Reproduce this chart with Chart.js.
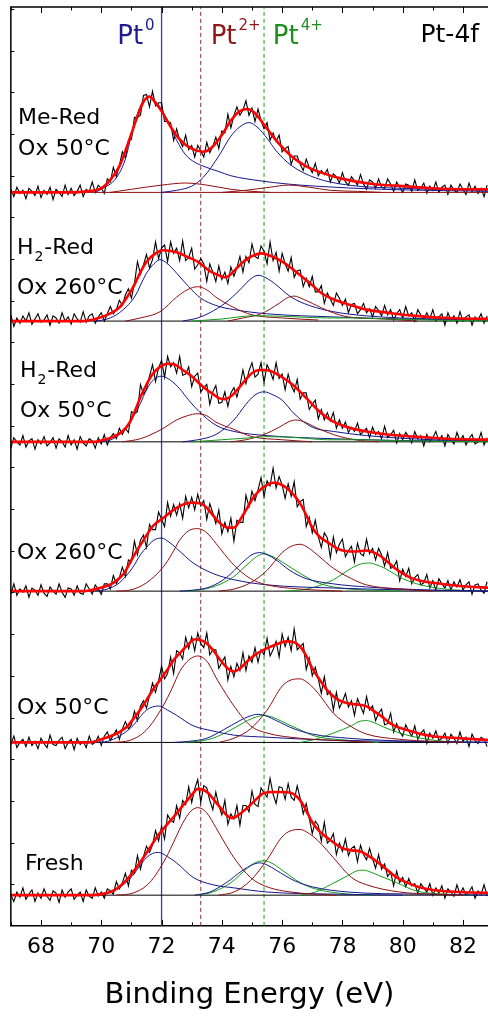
<!DOCTYPE html>
<html><head><meta charset="utf-8">
<script src="https://cdn.jsdelivr.net/npm/chart.js@4.4.1/dist/chart.umd.min.js"></script>
<style>html,body{margin:0;padding:0;background:#fff;overflow:hidden}canvas{display:block}</style>
</head><body>
<canvas id="c" width="488" height="1019"></canvas>
<script>
// ---------- DATA ----------
const xTicks = [68,70,72,74,76,78,80,82];
const refLines = [72.0, 73.3, 75.4]; // Pt0, Pt2+, Pt4+ binding energies (eV)
const refNames = ["Pt", "Pt", "Pt"];
const refSup = ["0", "2+", "4+"];
const panelTitle = "Pt-4f";
const sampleNames = [["Me-Red","Ox 50°C"],["H2-Red","Ox 260°C"],["H2-Red","Ox 50°C"],["Ox 260°C"],["Ox 50°C"],["Fresh"]];
const offsets = [704, 580.5, 464.6, 321.3, 176.1, 29.5];

const energy = [67,67.1,67.2,67.3,67.4,67.5,67.6,67.7,67.8,67.9,
68,68.1,68.2,68.3,68.4,68.5,68.6,68.7,68.8,68.9,
69,69.1,69.2,69.3,69.4,69.5,69.6,69.7,69.8,69.9,
70,70.1,70.2,70.3,70.4,70.5,70.6,70.7,70.8,70.9,
71,71.1,71.2,71.3,71.4,71.5,71.6,71.7,71.8,71.9,
72,72.1,72.2,72.3,72.4,72.5,72.6,72.7,72.8,72.9,
73,73.1,73.2,73.3,73.4,73.5,73.6,73.7,73.8,73.9,
74,74.1,74.2,74.3,74.4,74.5,74.6,74.7,74.8,74.9,
75,75.1,75.2,75.3,75.4,75.5,75.6,75.7,75.8,75.9,
76,76.1,76.2,76.3,76.4,76.5,76.6,76.7,76.8,76.9,
77,77.1,77.2,77.3,77.4,77.5,77.6,77.7,77.8,77.9,
78,78.1,78.2,78.3,78.4,78.5,78.6,78.7,78.8,78.9,
79,79.1,79.2,79.3,79.4,79.5,79.6,79.7,79.8,79.9,
80,80.1,80.2,80.3,80.4,80.5,80.6,80.7,80.8,80.9,
81,81.1,81.2,81.3,81.4,81.5,81.6,81.7,81.8,81.9,
82,82.1,82.2,82.3,82.4,82.5,82.6,82.7,82.8];

const rawMeRed = [3,-4,5,-1,2,-6,4,1,-3,6,
-5,2,-2,5,-7,3,0,-4,7,-2,
4,-3,1,7,-4,3,1,10,0,7,
4,-1,13,10,24,15,26,39,33,50,
51,72,72,74,93,94,82,97,83,86,
86,68,68,67,50,61,50,44,55,41,
45,34,45,40,34,48,38,44,53,42,
59,57,75,62,74,82,74,79,88,74,
81,68,80,69,61,67,50,57,49,55,
39,42,44,27,35,35,27,21,32,24,
19,28,16,21,17,22,10,18,15,9,
19,10,7,15,11,7,17,8,3,12,
10,4,13,5,4,13,8,1,10,5,
0,8,7,1,12,2,4,9,-1,6,
2,10,0,5,7,-2,7,2,0,8,
3,-2,9,1,6,-1,4,-4,7];

const rawH2Red260 = [6,-5,3,-2,5,0,8,-3,2,7,
-1,1,6,-4,5,3,-2,8,0,4,
-3,7,2,-1,9,-1,5,7,-2,4,
8,0,7,14,7,11,20,15,25,31,
22,36,57,45,54,64,51,59,76,60,
70,73,57,76,65,70,58,77,58,61,
70,50,54,60,55,38,55,47,38,53,
40,47,36,52,43,51,62,47,62,56,
74,62,60,72,67,55,76,58,66,48,
65,55,48,61,42,48,49,33,41,33,
43,28,28,34,17,27,21,15,27,22,
15,21,8,16,17,7,11,17,8,12,
4,14,10,5,15,6,11,1,7,11,
3,14,5,8,0,11,6,2,8,2,
11,0,4,7,-4,8,1,5,-2,9,
0,4,6,-4,4,1,7,-2,5];

const rawH2Red50 = [-6,4,0,-3,6,-5,1,3,-7,2,
-2,5,-4,-1,4,-6,3,0,-5,6,
-3,2,-7,5,-1,-4,3,1,-6,4,
-2,7,-3,4,8,3,13,7,13,9,
29,27,29,55,46,50,63,74,58,71,
78,62,82,72,76,66,82,64,65,72,
53,63,66,48,52,55,36,48,54,37,
38,48,34,47,52,43,54,69,56,68,
76,62,65,76,57,74,68,60,76,61,
65,50,65,54,48,60,41,47,47,31,
36,40,22,31,21,28,20,28,13,21,
13,19,9,14,10,18,7,10,13,4,
14,7,10,3,15,4,7,11,-1,8,
2,9,5,-1,10,3,6,-4,7,0,
4,10,1,6,-4,7,2,-2,9,1,
6,-3,3,7,-2,0,9,-3,4];

const rawOx260 = [-3,7,-4,2,-1,5,-6,3,1,-4,
6,-2,-5,4,0,-3,7,-1,-6,3,
2,-4,5,-2,-3,7,2,-3,6,2,
-3,7,7,2,15,7,13,23,14,30,
28,48,35,49,54,42,64,59,59,76,
69,62,85,72,83,73,84,70,91,80,
90,78,93,82,87,69,84,75,65,78,
55,66,57,70,48,68,66,66,92,81,
96,87,97,109,91,106,101,118,99,110,
102,89,103,91,105,81,86,88,62,71,
56,68,52,42,56,51,32,52,37,45,
50,33,39,43,28,46,36,34,50,36,
41,30,41,35,24,37,22,23,29,10,
21,14,22,7,13,16,6,8,16,3,
10,1,12,7,3,10,1,9,4,11,
1,6,9,-3,6,7,1,-2,9];

const rawOx50 = [-2,6,-5,0,3,-4,5,-3,1,-6,
4,-1,-5,7,-2,-3,2,5,-6,0,
3,-7,4,-2,1,-5,6,-2,0,6,
-3,6,10,2,7,12,3,13,20,13,
17,30,21,35,40,33,45,57,48,59,
73,61,66,82,66,88,86,80,101,90,
101,88,105,95,91,105,84,89,89,71,
77,82,60,73,63,76,69,86,69,83,
77,91,77,89,84,100,83,89,97,82,
104,92,101,88,109,89,92,95,70,81,
64,72,61,47,63,46,49,31,48,33,
39,47,34,40,26,42,35,28,44,31,
35,21,28,32,17,18,28,10,18,10,
6,17,11,6,16,3,9,12,-1,9,
4,11,2,4,9,-1,8,4,-1,10,
1,5,-4,8,2,-1,5,3,-4];

const rawFresh = [0,-6,3,-2,7,-4,1,5,-6,2,
-3,6,-1,-5,4,2,-7,5,-2,3,
6,-4,0,3,-6,5,-1,-3,7,-1,
3,-3,6,4,1,13,6,12,21,9,
24,21,38,25,37,47,41,48,62,52,
66,54,77,72,70,86,74,91,87,104,
89,102,111,89,105,103,91,82,99,86,
77,91,68,78,73,86,67,86,86,80,
100,87,85,103,98,94,112,97,88,104,
103,92,107,94,91,105,93,78,88,74,
59,71,67,52,70,50,53,59,39,50,
42,54,38,45,47,32,48,39,34,45,
35,26,39,25,30,18,22,9,23,12,
17,8,16,9,11,2,11,7,3,11,
0,7,2,9,-3,6,3,-1,10,1,
7,0,3,8,-3,4,1,10,-1];

// fitted envelopes [eV, counts]
const fitMeRed = [[67,0],[69.0,0],[69.5,1],[70.0,4],[70.3,12],[70.6,25],[70.9,48],[71.2,73],[71.4,87],[71.6,92],[71.8,86],[72.0,78],[72.3,63],[72.6,51],[73.0,42],[73.4,39],[73.7,44],[74.0,55],[74.3,69],[74.6,78],[74.85,80],[75.1,76],[75.4,65],[75.8,50],[76.3,35],[76.8,25],[77.3,19],[78.0,13],[79.0,8],[80.0,6],[81.0,4],[82.0,3],[83,3]];
const fitH2Red260 = [[67,0],[69.4,0],[69.8,2],[70.2,6],[70.6,13],[70.9,25],[71.1,35],[71.3,47],[71.5,57],[71.8,65],[72.05,68],[72.5,66],[72.9,61],[73.2,57],[73.6,48],[73.9,44],[74.1,42],[74.3,45],[74.5,51],[74.8,59],[75.05,63],[75.3,65],[75.5,64],[75.75,61],[76.0,57],[76.3,51],[76.6,44],[76.9,37],[77.3,27],[77.7,21],[78.2,16],[78.8,11],[79.5,8],[80.4,5],[81.5,3],[83,2]];
const fitH2Red50 = [[67,0],[69.8,0],[70.1,2],[70.4,5],[70.7,10],[70.95,19],[71.15,32],[71.3,43],[71.5,55],[71.7,65],[71.95,72],[72.2,75],[72.45,74],[72.7,69],[73.0,63],[73.25,56],[73.5,50],[73.7,46],[73.9,42],[74.1,41],[74.35,45],[74.6,53],[74.8,60],[75.0,66],[75.25,69],[75.45,69],[75.7,67],[76.0,62],[76.3,56],[76.6,48],[76.9,39],[77.2,30],[77.5,23],[77.8,18],[78.3,13],[78.8,10],[79.5,7],[80.4,5],[81.5,3],[83,2]];
const fitOx260 = [[67,0],[69.4,0],[69.95,3],[70.4,8],[70.75,17],[71.06,33],[71.4,49],[71.73,63],[72.0,69],[72.4,78],[72.7,83],[73.0,85],[73.3,84],[73.5,80],[73.7,73],[73.95,65],[74.2,61],[74.4,61],[74.7,73],[75.05,90],[75.3,98],[75.5,102],[75.7,104],[75.9,103],[76.15,99],[76.4,92],[76.6,84],[76.8,73],[77.0,61],[77.25,52],[77.5,47],[77.9,40],[78.4,38],[78.8,39],[79.05,37],[79.25,34],[79.5,28],[79.7,23],[80.0,17],[80.25,13],[80.6,10],[81.0,8],[81.9,5],[83,3]];
const fitOx50 = [[67,0],[69.6,0],[70.0,3],[70.3,6],[70.6,10],[70.85,15],[71.1,24],[71.4,36],[71.7,50],[71.95,60],[72.2,70],[72.4,79],[72.65,87],[72.85,93],[73.1,99],[73.3,98],[73.5,95],[73.75,87],[73.95,79],[74.2,71],[74.4,68],[74.6,71],[74.85,78],[75.1,84],[75.4,89],[75.8,94],[76.15,97],[76.4,96],[76.6,92],[76.8,83],[77.0,71],[77.25,60],[77.5,50],[77.75,43],[78.0,39],[78.3,37],[78.6,36],[78.85,34],[79.05,30],[79.3,25],[79.6,18],[79.9,14],[80.25,11],[80.6,8],[81.0,6],[81.9,4],[83,2]];
const fitFresh = [[67,0],[69.7,0],[70.0,1],[70.3,3],[70.55,7],[70.75,12],[71.0,20],[71.3,32],[71.6,45],[71.85,56],[72.1,65],[72.4,75],[72.65,84],[72.85,91],[73.05,98],[73.2,102],[73.4,101],[73.55,98],[73.75,91],[73.95,84],[74.15,77],[74.35,74],[74.6,78],[74.85,84],[75.1,91],[75.4,98],[75.7,99],[75.95,99],[76.3,98],[76.6,91],[76.8,81],[77.0,70],[77.25,61],[77.5,55],[78.0,45],[78.3,43],[78.6,42],[78.9,37],[79.2,31],[79.5,24],[79.8,17],[80.15,12],[80.5,8],[81.0,5],[81.9,3],[83,2]];

// fitted components [eV, counts]
const s1b1 = [[69.8,0],[70.0,3],[70.5,14],[70.8,32],[71.0,55],[71.3,83],[71.6,91],[71.9,84],[72.2,69],[72.5,50],[72.8,36],[73.1,29],[73.4,25],[73.9,20],[74.3,16],[75.3,11],[76.2,8],[77.1,6],[79.3,3],[83,1]];
const s1b2 = [[72.0,0],[72.5,2],[73.0,6],[73.4,15],[73.9,35],[74.3,54],[74.6,63],[74.9,67],[75.2,62],[75.5,52],[75.8,40],[76.3,26],[77.1,14],[78.2,7],[79.9,4],[83,2]];
const s1r1 = [[70.3,0],[71.0,3],[72.0,7],[72.8,9],[73.5,7],[74.3,3],[75.0,1],[75.6,0]];
const s1r2 = [[74.0,0],[74.8,2],[75.6,5],[76.2,7],[76.9,5],[77.6,2],[78.5,1],[79.3,0]];

const s2b1 = [[69.8,0],[70.2,2],[70.6,8],[71.1,23],[71.5,46],[71.75,55],[71.95,59],[72.2,55],[72.5,46],[72.9,33],[73.3,22],[73.8,15],[74.4,11],[75.5,7],[77.7,4],[79.9,2],[83,1]];
const s2r1 = [[70.8,0],[71.3,3],[71.95,9],[72.5,23],[72.85,30],[73.2,33],[73.5,30],[73.8,23],[74.4,13],[75.0,6],[76.0,3],[77.2,1]];
const s2b2 = [[72.7,0],[73.2,3],[73.6,8],[74.1,17],[74.6,30],[74.9,39],[75.2,44],[75.5,41],[75.75,36],[76.3,23],[76.9,15],[77.7,9],[78.8,5],[81,2],[83,1]];
const s2r2 = [[74.2,0],[74.7,3],[75.3,7],[75.9,17],[76.15,22],[76.4,24],[76.7,21],[77.0,17],[77.6,9],[78.2,4],[79.4,2],[80.5,0]];
const s2g1 = [[73.0,0],[74.0,2],[75.0,5],[75.5,5],[76.5,4],[77.5,3],[78.5,3],[79.5,2],[81,1],[83,0]];

const s3b1 = [[69.8,0],[70.2,1],[70.6,7],[71.05,24],[71.3,37],[71.5,50],[71.75,60],[72.0,63],[72.3,59],[72.6,51],[72.9,40],[73.25,29],[73.8,16],[74.4,10],[75.5,6],[77.7,3],[81,1],[83,1]];
const s3r1 = [[70.7,0],[71.3,3],[72.0,12],[72.5,21],[72.85,25],[73.2,27],[73.5,25],[73.8,19],[74.4,12],[75.0,5],[76.0,2],[77,0]];
const s3b2 = [[72.7,0],[73.2,2],[73.8,7],[74.4,21],[74.8,36],[75.1,45],[75.4,48],[75.7,45],[76.0,40],[76.4,27],[77.0,14],[77.7,10],[78.8,6],[81,2],[83,1]];
const s3r2 = [[74.3,0],[74.8,2],[75.4,7],[75.9,14],[76.2,19],[76.45,21],[76.75,19],[77.1,14],[77.7,7],[78.4,2],[79.2,0]];
const s3g1 = [[73.0,0],[74.0,2],[75.0,4],[75.5,5],[76.5,4],[77.5,2],[78.6,2],[80,1],[83,0]];

const s4b1 = [[69.8,0],[70.2,2],[70.6,8],[71.05,23],[71.3,35],[71.5,42],[71.75,49],[72.0,51],[72.25,47],[72.5,41],[72.8,33],[73.05,27],[73.7,17],[74.4,11],[75.5,6],[77.7,3],[80.4,1],[83,0]];
const s4r1 = [[70.5,0],[70.95,1],[71.5,8],[72.05,23],[72.35,36],[72.6,49],[72.9,58],[73.2,60],[73.5,56],[73.8,46],[74.1,35],[74.4,25],[74.95,12],[75.5,6],[76.6,2],[78,0]];
const s4b2 = [[72.6,0],[73.05,1],[73.6,4],[74.15,13],[74.7,28],[75.0,35],[75.25,37],[75.5,35],[75.8,30],[76.25,20],[76.8,12],[77.7,7],[78.8,4],[81,1],[83,0]];
const s4g1 = [[72.8,0],[73.25,1],[73.8,5],[74.35,13],[74.9,27],[75.15,33],[75.4,36],[75.7,33],[76.0,28],[76.6,17],[77.1,9],[77.7,4],[78.8,1],[80,0]];
const s4r2 = [[73.9,0],[74.4,2],[74.95,8],[75.5,20],[76.0,37],[76.3,43],[76.6,45],[76.9,41],[77.2,34],[77.7,22],[78.3,12],[78.8,6],[79.9,2],[81,0]];
const s4g2 = [[76.1,0],[76.6,1],[77.1,4],[77.7,11],[78.3,22],[78.6,26],[78.9,27],[79.15,25],[79.4,22],[80.0,12],[80.6,6],[81.4,2],[82.5,0]];

const s5b1 = [[69.8,0],[70.2,1],[70.6,6],[71.05,16],[71.3,25],[71.5,31],[71.7,34],[71.9,35],[72.2,31],[72.5,26],[73.05,16],[73.7,11],[74.4,7],[75.5,5],[77.7,2],[80.4,1],[83,0]];
const s5r1 = [[70.4,0],[70.95,2],[71.5,12],[72.05,35],[72.35,52],[72.6,68],[72.9,79],[73.2,83],[73.5,78],[73.85,60],[74.15,46],[74.4,35],[74.95,16],[75.5,9],[76.6,4],[77.7,2],[79,0]];
const s5b2 = [[72.4,0],[72.9,1],[73.5,4],[74.05,12],[74.6,21],[74.9,25],[75.2,27],[75.5,25],[75.8,21],[76.4,13],[77.0,8],[78.2,4],[80.4,1],[83,0]];
const s5g1 = [[72.7,0],[73.2,1],[73.7,4],[74.3,12],[74.85,21],[75.1,24],[75.4,26],[75.7,24],[76.0,20],[76.6,12],[77.1,6],[78.2,2],[79.2,0]];
const s5r2 = [[73.9,0],[74.4,4],[74.95,13],[75.5,31],[76.0,54],[76.3,60],[76.6,61],[76.9,56],[77.2,47],[77.7,28],[78.3,15],[78.8,8],[79.9,3],[81,1],[82,0]];
const s5g2 = [[76.6,0],[77.1,3],[77.7,9],[78.3,16],[78.55,20],[78.8,21],[79.05,19],[79.35,15],[79.9,9],[80.6,4],[81.4,1],[82.3,0]];

const s6b1 = [[69.8,0],[70.2,2],[70.6,7],[71.05,19],[71.3,29],[71.5,36],[71.7,40],[71.9,41],[72.2,37],[72.5,31],[73.05,17],[73.7,10],[74.4,7],[75.5,3],[77.7,1],[80,0]];
const s6r1 = [[70.5,0],[71.05,2],[71.6,12],[72.15,36],[72.45,54],[72.7,69],[72.95,80],[73.2,84],[73.5,79],[73.8,65],[74.1,50],[74.4,36],[74.95,17],[75.5,8],[76.6,2],[77.8,0]];
const s6b2 = [[73.1,0],[73.6,3],[74.15,12],[74.7,24],[75.0,29],[75.25,31],[75.5,29],[75.8,24],[76.4,14],[77.0,8],[78.2,3],[80.4,1],[83,0]];
const s6g1 = [[73.2,0],[73.7,3],[74.3,12],[74.85,26],[75.1,31],[75.4,33],[75.7,30],[76.0,24],[76.6,12],[77.1,6],[78.2,1],[79,0]];
const s6r2 = [[73.9,0],[74.4,3],[74.95,14],[75.5,34],[76.0,56],[76.3,62],[76.6,63],[76.9,59],[77.2,52],[77.7,36],[78.3,17],[78.8,10],[79.9,3],[81,1],[82,0]];
const s6g2 = [[76.6,0],[77.1,3],[77.6,10],[78.2,19],[78.45,23],[78.7,24],[78.95,22],[79.2,19],[79.8,12],[80.45,4],[81.4,1],[82.2,0]];

// ---------- STYLE / LAYOUT ----------
const COL = {b:'#16168e', r:'#900e0e', g:'#12991a'};
const refStyle = [{c:'#2b3ad0', d:[], w:1.3},{c:'#8e2a2a', d:[4,3], w:1},{c:'#1aa21a', d:[4,3], w:1}];
const refText = ['#1c1c8e','#8e1818','#1c8e1c'];
const FONT = 'DejaVu Sans';
const series = [
  {raw: rawMeRed, fit: fitMeRed, base: COL.r, comps: [[s1r1,'r'],[s1r2,'r'],[s1b2,'b'],[s1b1,'b']]},
  {raw: rawH2Red260, fit: fitH2Red260, base: '#000', comps: [[s2g1,'g'],[s2r1,'r'],[s2r2,'r'],[s2b1,'b'],[s2b2,'b']]},
  {raw: rawH2Red50, fit: fitH2Red50, base: '#000', comps: [[s3g1,'g'],[s3r1,'r'],[s3r2,'r'],[s3b1,'b'],[s3b2,'b']]},
  {raw: rawOx260, fit: fitOx260, base: '#000', comps: [[s4r1,'r'],[s4r2,'r'],[s4b1,'b'],[s4b2,'b'],[s4g1,'g'],[s4g2,'g']]},
  {raw: rawOx50, fit: fitOx50, base: '#000', comps: [[s5r1,'r'],[s5r2,'r'],[s5b1,'b'],[s5b2,'b'],[s5g1,'g'],[s5g2,'g']]},
  {raw: rawFresh, fit: fitFresh, base: '#000', comps: [[s6r1,'r'],[s6r2,'r'],[s6b1,'b'],[s6b2,'b'],[s6g1,'g'],[s6g2,'g']]}
];
// label anchors in data units (eV, counts)
const labelAnchor = [
  {x:67.24, y:[769.6, 739.9]},
  {x:67.2, y:[644.8, 606.4]},
  {x:67.3, y:[527, 488.1]},
  {x:67.2, y:[352]},
  {x:67.2, y:[203.2]},
  {x:67.47, y:[53.5]}
];
const refLabelAnchor = [{x:70.53, y:846},{x:73.63, y:846},{x:75.69, y:846}];
const titleAnchor = {x:80.59, y:848.6};
const YMAX = 881.95;

const datasets = [];
series.forEach((s, i) => {
  const off = offsets[i];
  datasets.push({data: energy.map((e,k)=>({x:e, y:off + s.raw[k]})), borderColor:'#000', borderWidth:1.1, order:3});
  datasets.push({data: [{x:67,y:off},{x:83,y:off}], borderColor:s.base, borderWidth:1, order:2});
  s.comps.forEach(([arr,c]) => datasets.push({data: arr.map(([e,v])=>({x:e,y:off+v})), borderColor:COL[c], borderWidth:1, cubicInterpolationMode:'monotone', order:1}));
  datasets.push({data: s.fit.map(([e,v])=>({x:e,y:off+v})), borderColor:'#ff0000', borderWidth:2.6, cubicInterpolationMode:'monotone', order:0});
});
refLines.forEach((e,i) => datasets.push({data:[{x:e,y:0},{x:e,y:YMAX}], borderColor:refStyle[i].c, borderDash:refStyle[i].d, borderWidth:refStyle[i].w, order:4}));

const decor = {
  id:'decor',
  afterDatasetsDraw(chart){
    const {ctx, chartArea:a, scales:{x,y}} = chart;
    ctx.save();
    ctx.strokeStyle='#000'; ctx.lineWidth=1.5;
    ctx.beginPath(); ctx.moveTo(a.left, a.bottom); ctx.lineTo(a.left, a.top); ctx.lineTo(a.right+2, a.top); ctx.stroke();
    ctx.lineWidth=1;
    ctx.beginPath();
    for (let v=67; v<=83; v++){
      const px = Math.round(x.getPixelForValue(v))+0.5; const L = v%2===0 ? 6 : 3.5;
      ctx.moveTo(px, a.bottom); ctx.lineTo(px, a.bottom-L);
      ctx.moveTo(px, a.top); ctx.lineTo(px, a.top+L);
    }
    for (let v=40; v<YMAX; v+=40){
      const py = Math.round(y.getPixelForValue(v))+0.5;
      ctx.moveTo(a.left, py); ctx.lineTo(a.left+3.5, py);
    }
    ctx.stroke();
    // sample labels
    ctx.fillStyle='#000'; ctx.textBaseline='alphabetic'; ctx.textAlign='left';
    sampleNames.forEach((lines,i) => {
      const px = x.getPixelForValue(labelAnchor[i].x);
      lines.forEach((t,j) => {
        const py = y.getPixelForValue(labelAnchor[i].y[j]);
        if (t.startsWith('H2')) {
          ctx.font = '22px "'+FONT+'"'; ctx.fillText('H', px, py);
          let w = ctx.measureText('H').width;
          ctx.font = '14px "'+FONT+'"'; ctx.fillText('2', px+w+1, py+7);
          w += ctx.measureText('2').width + 2;
          ctx.font = '22px "'+FONT+'"'; ctx.fillText(t.slice(2), px+w, py);
        } else {
          ctx.font = '22px "'+FONT+'"'; ctx.fillText(t, px, py);
        }
      });
    });
    // reference labels
    refNames.forEach((t,i) => {
      const px = x.getPixelForValue(refLabelAnchor[i].x), py = y.getPixelForValue(refLabelAnchor[i].y);
      ctx.fillStyle = refText[i];
      ctx.font = '26px "'+FONT+'"'; ctx.fillText(t, px, py);
      const w = ctx.measureText(t).width;
      ctx.font = '15px "'+FONT+'"'; ctx.fillText(refSup[i], px+w+2, py-14);
    });
    ctx.fillStyle='#000'; ctx.font='25px "'+FONT+'"';
    ctx.fillText(panelTitle, x.getPixelForValue(titleAnchor.x), y.getPixelForValue(titleAnchor.y));
    ctx.restore();
  }
};

new Chart(document.getElementById('c'), {
  type:'line',
  data:{datasets},
  options:{
    responsive:false, animation:false, events:[],
    layout:{padding:{left:10.85, top:7, right:0, bottom:6.6}},
    plugins:{legend:{display:false}, tooltip:{enabled:false}},
    elements:{point:{radius:0}, line:{tension:0}},
    scales:{
      x:{type:'linear', min:67, max:82.83,
        grid:{display:false, drawTicks:false},
        border:{display:true, color:'#000', width:1.5},
        afterBuildTicks: s => { s.ticks = xTicks.map(v=>({value:v})); },
        ticks:{font:{family:FONT, size:22}, color:'#000', padding:8, autoSkip:false, maxRotation:0, callback:v=>String(v)},
        title:{display:true, text:'Binding Energy (eV)', color:'#000', font:{family:FONT, size:29}, padding:{top:9.3, bottom:0}}
      },
      y:{display:false, min:0, max:YMAX}
    }
  },
  plugins:[decor]
});
</script>
</body></html>
